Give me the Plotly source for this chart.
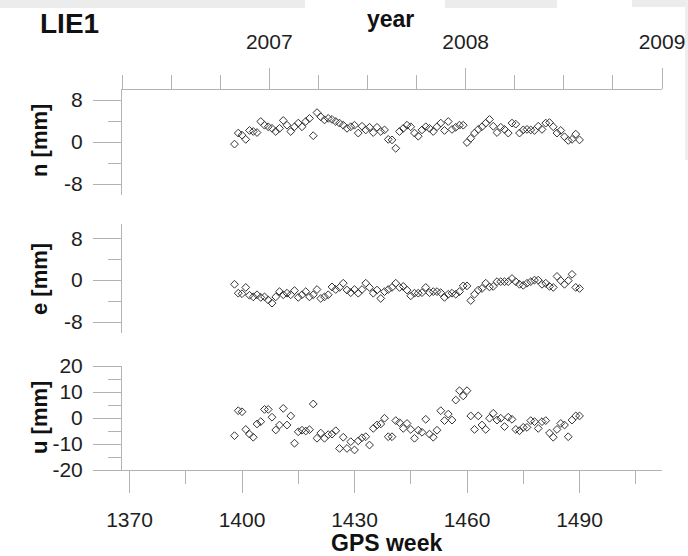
import plotly.graph_objects as go

# ---------------- data ----------------
weeks = list(range(1398, 1491))

n_mm = [-0.4, 1.7, 1.3, 0.5, 2.2, 2.0, 1.8, 3.9, 3.2, 2.9,
        2.6, 2.0, 2.6, 4.1, 3.2, 2.0, 2.9, 3.6, 2.9, 3.9,
        4.5, 1.2, 5.6, 4.8, 4.2, 4.5, 4.3, 3.9, 3.6, 3.2,
        2.6, 2.9, 3.2, 1.7, 3.0, 2.3, 2.8, 1.8, 2.8, 2.0,
        2.3, 0.5, 0.4, -1.2, 2.0, 2.6, 3.2, 2.9, 1.7, 1.1,
        2.3, 2.9, 2.6, 2.0, 2.9, 3.6, 2.2, 3.9, 2.4, 2.8,
        3.2, 3.2, -0.1, 0.7, 1.7, 2.4, 2.9, 3.6, 4.3, 3.0,
        1.8, 2.8, 2.4, 1.7, 3.6, 3.4, 1.7, 2.3, 2.4, 2.3,
        2.2, 3.0, 2.4, 3.6, 3.7, 2.9, 1.7, 2.2, 1.0, 0.3,
        0.5, 1.5, 0.4]

e_mm = [-0.8, -2.5, -2.6, -1.4, -2.9, -3.2, -2.8, -3.3, -3.2, -3.8,
        -4.4, -3.2, -2.2, -2.8, -2.5, -2.8, -2.0, -3.3, -2.8, -2.2,
        -3.2, -2.8, -1.8, -3.5, -3.2, -2.8, -1.3, -1.8, -1.4, -0.6,
        -1.9, -2.4, -1.8, -2.5, -1.8, -0.6, -1.4, -2.5, -1.9, -3.5,
        -2.2, -1.8, -1.4, -0.6, -1.4, -1.2, -1.9, -3.0, -2.5, -2.5,
        -2.4, -1.4, -2.4, -2.2, -2.2, -2.4, -3.3, -2.7, -2.5, -2.7,
        -2.2, -1.1, -1.1, -3.9, -2.7, -1.9, -1.6, -0.6, -1.3, -1.2,
        -0.3, -0.3, -0.3, -0.3, 0.3, -0.3, -0.8, -1.0, -0.6, -0.3,
        0.0, 0.0, -0.8, -0.6, -1.2, -1.4, 0.7, -0.1, -0.8, -0.1,
        1.1, -1.4, -1.6]

u_mm = [-6.8, 2.8, 2.4, -4.4, -6.2, -7.4, -2.3, -1.4, 3.3, 3.3,
        0.3, -4.6, -2.7, 3.7, -2.7, 0.8, -9.7, -5.3, -4.7, -5.0,
        -4.5, 5.4, -7.8, -5.8, -7.8, -6.4, -6.2, -4.9, -11.7, -7.4,
        -11.7, -9.1, -12.3, -8.8, -7.6, -7.2, -10.4, -4.0, -2.7, -2.3,
        -0.1, -7.2, -7.2, -1.0, -1.8, -4.0, -2.1, -4.4, -7.8, -4.7,
        -5.5, -0.5, -6.2, -7.4, -4.7, 2.8, -1.0, 1.5, -0.8, 6.9,
        10.5, 8.5, 10.5, 0.8, -4.4, 0.8, -2.7, -4.4, -0.1, 1.8,
        -0.8, -0.1, -3.3, 0.3, -0.5, -4.4, -4.9, -3.6, -3.6, -1.0,
        -1.4, -4.0, -1.4, -1.0, -5.8, -7.4, -4.4, -2.1, -2.7, -7.2,
        -0.8, 0.8, 0.8]

week_ticks = [1370, 1400, 1430, 1460, 1490]
year_ticks = [2007, 2008, 2009]
n_ticks = [-8, 0, 8]
e_ticks = [-8, 0, 8]
u_ticks = [-20, -10, 0, 10, 20]

week_range = [1368, 1512]
year_range = [2006.25, 2009.0]

# ---------------- layout helpers ----------------
W, H = 688, 556


def fx(px):
    return px / W


def fy(py):
    return 1 - py / H


FONT = "Liberation Sans, Arial, sans-serif"
GREY = "#b3b3b3"
TXT = "#1e1e1e"
x_dom = [fx(122), fx(662)]

marker = dict(symbol="diamond-open", size=6, color="#333333", line=dict(width=1))

fig = go.Figure()
fig.add_trace(go.Scatter(x=weeks, y=n_mm, mode="markers", marker=marker,
                         xaxis="x2", yaxis="y", showlegend=False))
fig.add_trace(go.Scatter(x=weeks, y=e_mm, mode="markers", marker=marker,
                         xaxis="x3", yaxis="y2", showlegend=False))
fig.add_trace(go.Scatter(x=weeks, y=u_mm, mode="markers", marker=marker,
                         xaxis="x", yaxis="y3", showlegend=False))
# carrier for the top (year) axis
fig.add_trace(go.Scatter(x=[None], y=[None], mode="markers", xaxis="x4", yaxis="y",
                         showlegend=False, hoverinfo="skip"))


def yax(dom, rng, ticks, minor_vals):
    return dict(domain=dom, range=rng, tickvals=ticks, ticktext=[str(t) for t in ticks],
                showline=True, linecolor=GREY, linewidth=1, mirror=False,
                ticks="outside", ticklen=28, tickcolor=GREY, tickwidth=1,
                showgrid=False, zeroline=False, fixedrange=True, automargin=False,
                tickfont=dict(family=FONT, size=21, color=TXT),
                ticklabelstandoff=6,
                minor=dict(ticks="outside", ticklen=13, tickcolor=GREY, tickwidth=1,
                           tickvals=minor_vals, showgrid=False))


hidden_x = dict(domain=x_dom, range=week_range, matches="x", visible=False,
                automargin=False)

# faint grey watermark remnants along the top edge of the picture
band = "#ececec"
shapes = [
    dict(type="rect", xref="paper", yref="paper", x0=fx(0), x1=fx(305),
         y0=fy(8), y1=fy(0), fillcolor=band, line=dict(width=0), layer="below"),
    dict(type="rect", xref="paper", yref="paper", x0=fx(445), x1=fx(557),
         y0=fy(8), y1=fy(0), fillcolor=band, line=dict(width=0), layer="below"),
    dict(type="rect", xref="paper", yref="paper", x0=fx(632), x1=fx(688),
         y0=fy(7), y1=fy(0), fillcolor=band, line=dict(width=0), layer="below"),
    dict(type="rect", xref="paper", yref="paper", x0=fx(685), x1=fx(688),
         y0=fy(160), y1=fy(0), fillcolor="#eeeeee", line=dict(width=0), layer="below"),
]

fig.update_layout(
    width=W, height=H, autosize=False,
    margin=dict(l=0, r=0, t=0, b=0, pad=0, autoexpand=False),
    paper_bgcolor="white", plot_bgcolor="rgba(0,0,0,0)",
    showlegend=False,
    shapes=shapes,
    xaxis=dict(domain=x_dom, range=week_range, anchor="y3",
               tickvals=week_ticks, ticktext=[str(t) for t in week_ticks],
               showline=True, linecolor=GREY, linewidth=1,
               ticks="outside", ticklen=22, tickcolor=GREY, tickwidth=1,
               showgrid=False, zeroline=False, fixedrange=True, automargin=False,
               tickfont=dict(family=FONT, size=21, color=TXT),
               ticklabelstandoff=9,
               minor=dict(ticks="outside", ticklen=13, tickcolor=GREY, tickwidth=1,
                          dtick=15, tick0=1370, showgrid=False)),
    xaxis2=dict(hidden_x, anchor="y"),
    xaxis3=dict(hidden_x, anchor="y2"),
    xaxis4=dict(domain=x_dom, range=year_range, anchor="y", side="top",
                overlaying="x2",
                tickvals=year_ticks, ticktext=[str(t) for t in year_ticks],
                showline=True, linecolor=GREY, linewidth=1,
                ticks="outside", ticklen=21, tickcolor=GREY, tickwidth=1,
                showgrid=False, zeroline=False, fixedrange=True, automargin=False,
                tickfont=dict(family=FONT, size=21, color=TXT),
                ticklabelstandoff=10,
                minor=dict(ticks="outside", ticklen=14, tickcolor=GREY, tickwidth=1,
                           dtick=0.25, tick0=2007, showgrid=False)),
    yaxis=yax([fy(194.5), fy(89.5)], [-10, 10], n_ticks, [-4, 4]),
    yaxis2=yax([fy(332.5), fy(223.5)], [-10, 10.8], e_ticks, [-4, 4]),
    yaxis3=yax([fy(470), fy(366)], [-20, 20], u_ticks, [-15, -5, 5, 15]),
)

ann = []


def add_text(text, px, py, size, angle=0):
    ann.append(dict(text=text, x=fx(px), y=fy(py), xref="paper", yref="paper",
                    showarrow=False, xanchor="center", yanchor="middle",
                    textangle=angle, font=dict(family=FONT, size=size, color="#111111")))


add_text("<b>LIE1</b>", 69, 24, 28)
add_text("<b>year</b>", 390, 19, 23)
add_text("<b>GPS week</b>", 386, 543, 23)
add_text("<b>n [mm]</b>", 39, 141, 22, -90)
add_text("<b>e [mm]</b>", 39, 279, 22, -90)
add_text("<b>u [mm]</b>", 39, 418, 22, -90)
fig.update_layout(annotations=ann)

fig.write_html("out.html", config={"responsive": False})
